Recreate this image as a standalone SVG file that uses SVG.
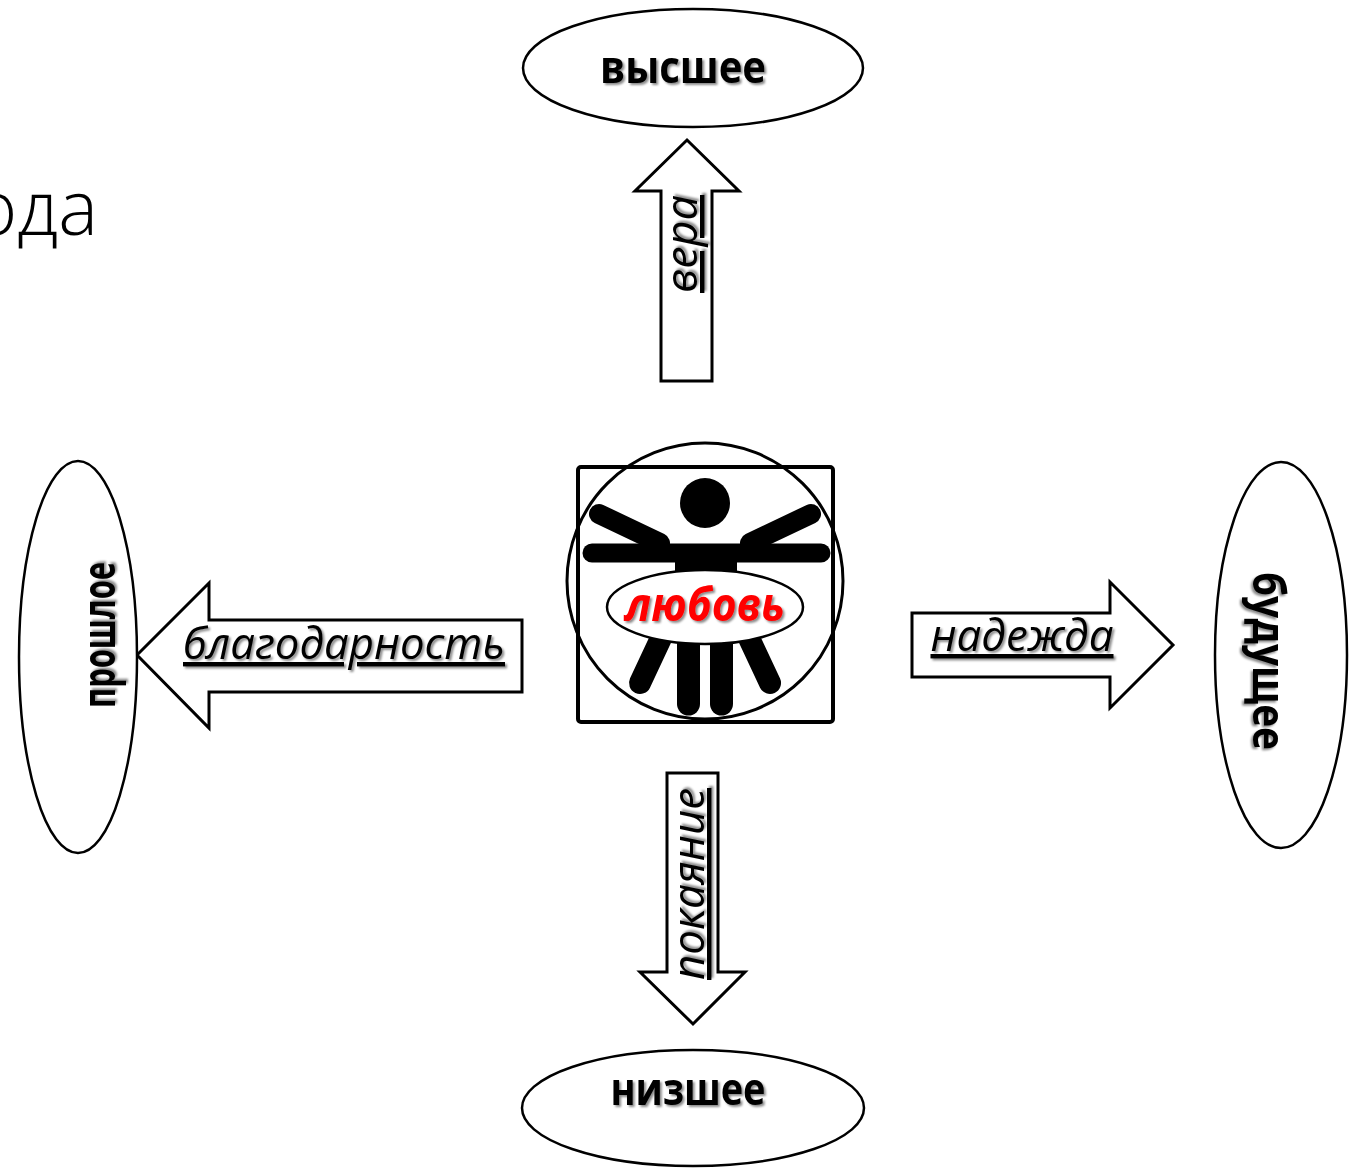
<svg xmlns="http://www.w3.org/2000/svg" width="1353" height="1168" viewBox="0 0 1353 1168">
<defs>
<filter id="sh" x="-20%" y="-40%" width="140%" height="180%">
<feDropShadow dx="2" dy="2" stdDeviation="1.3" flood-color="#000" flood-opacity="0.45"/>
</filter>
<style>
.node{fill:#fff;stroke:#000;stroke-width:2.5}
.arrow{fill:#fff;stroke:#000;stroke-width:3;stroke-linejoin:miter}
.lbl{font-family:"Open Sans","Liberation Sans",sans-serif;font-weight:700;font-size:44px;fill:#000;text-anchor:middle}
.ital{font-family:"Open Sans","Liberation Sans",sans-serif;font-style:italic;font-size:44px;fill:#000;text-anchor:middle;text-decoration:underline}
.limb{stroke:#000;stroke-linecap:round;fill:none}
</style>
</defs>
<rect width="1353" height="1168" fill="#fff"/>

<g id="title-fragment" font-family="'Open Sans','Liberation Sans',sans-serif" font-weight="300" font-size="75" fill="#000">
<text x="98" y="235" text-anchor="end">ода</text>
<text x="2" y="339" text-anchor="end">.</text>
</g>

<g id="connectors">
<g id="arrow-up">
<polygon class="arrow" points="687,140 739,191 712,191 712,381 661,381 661,191 635,191"/>
<text class="ital" filter="url(#sh)" transform="translate(697,244) rotate(-90)" textLength="98" lengthAdjust="spacingAndGlyphs">вера</text>
</g>
<g id="arrow-down">
<polygon class="arrow" points="667,773 718,773 718,972 745,972 693,1024 640,972 667,972"/>
<text class="ital" filter="url(#sh)" transform="translate(704,884) rotate(-90)" textLength="192" lengthAdjust="spacingAndGlyphs">покаяние</text>
</g>
<g id="arrow-left">
<polygon class="arrow" points="137,655 209,583 209,620 522,620 522,692 209,692 209,728"/>
<text class="ital" filter="url(#sh)" x="344" y="659" textLength="322" lengthAdjust="spacingAndGlyphs">благодарность</text>
</g>
<g id="arrow-right">
<polygon class="arrow" points="912,613 1110,613 1110,582 1173,645 1110,708 1110,677 912,677"/>
<text class="ital" filter="url(#sh)" x="1022" y="651" textLength="183" lengthAdjust="spacingAndGlyphs">надежда</text>
</g>
</g>

<g id="node-top">
<ellipse class="node" cx="693" cy="68" rx="170" ry="59"/>
<text class="lbl" filter="url(#sh)" x="683" y="83" textLength="166" lengthAdjust="spacingAndGlyphs">высшее</text>
</g>
<g id="node-bottom">
<ellipse class="node" cx="693" cy="1108" rx="171" ry="58"/>
<text class="lbl" filter="url(#sh)" x="688" y="1105" textLength="155" lengthAdjust="spacingAndGlyphs">низшее</text>
</g>
<g id="node-left">
<ellipse class="node" cx="78" cy="657" rx="59" ry="196"/>
<text class="lbl" filter="url(#sh)" transform="translate(115,635) rotate(-90)" textLength="146" lengthAdjust="spacingAndGlyphs">прошлое</text>
</g>
<g id="node-right">
<ellipse class="node" cx="1281" cy="655" rx="66" ry="193"/>
<text class="lbl" filter="url(#sh)" transform="translate(1253,661) rotate(90)" textLength="178" lengthAdjust="spacingAndGlyphs">будущее</text>
</g>

<g id="node-center">
<rect x="578" y="467" width="255" height="255" rx="3" fill="#fff" stroke="#000" stroke-width="4"/>
<circle cx="705" cy="581" r="138" fill="none" stroke="#000" stroke-width="3"/>
<circle cx="705" cy="503" r="25" fill="#000"/>
<line class="limb" x1="592" y1="553" x2="821" y2="553" stroke-width="19"/>
<line class="limb" x1="599" y1="514" x2="660" y2="543" stroke-width="20"/>
<line class="limb" x1="811" y1="514" x2="750" y2="543" stroke-width="20"/>
<rect x="675" y="545" width="62" height="70" fill="#000"/>
<line class="limb" x1="688.5" y1="630" x2="688.5" y2="704" stroke-width="23"/>
<line class="limb" x1="721.5" y1="630" x2="721.5" y2="704" stroke-width="23"/>
<line class="limb" x1="662" y1="636" x2="640" y2="683" stroke-width="22"/>
<line class="limb" x1="748" y1="636" x2="770" y2="683" stroke-width="22"/>
<ellipse cx="705" cy="607" rx="98" ry="37" fill="#fff" stroke="#000" stroke-width="2.5"/>
<text x="705" y="621" text-anchor="middle" font-family="'Open Sans','Liberation Sans',sans-serif" font-weight="700" font-style="italic" font-size="46" fill="#ff0000" filter="url(#sh)" textLength="160" lengthAdjust="spacingAndGlyphs">любовь</text>
</g>
</svg>
